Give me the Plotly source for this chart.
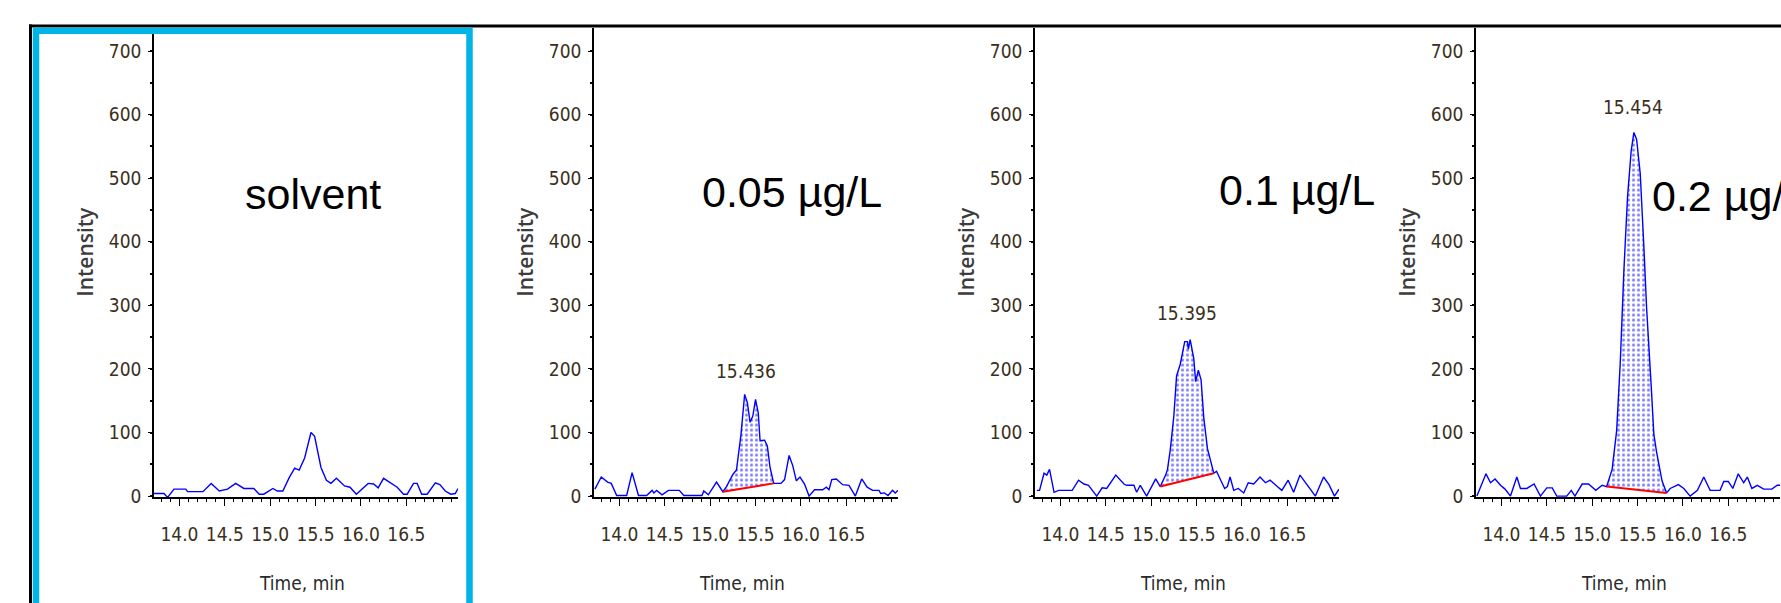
import plotly.graph_objects as go

W, H = 1781, 603

# ---------------- data ----------------
panel_labels = ["solvent", "0.05 µg/L", "0.1 µg/L", "0.2 µg/L"]

t_solvent = [13.72, 13.83, 13.87, 13.94, 14.07, 14.09, 14.26, 14.35, 14.44, 14.53, 14.62, 14.71,
             14.82, 14.88, 14.93, 15.03, 15.08, 15.14, 15.21, 15.27, 15.32, 15.38, 15.45, 15.49,
             15.56, 15.62, 15.67, 15.73, 15.82, 15.88, 15.95, 16.03, 16.08, 16.14, 16.19, 16.25,
             16.32, 16.40, 16.47, 16.51, 16.58, 16.62, 16.67, 16.73, 16.82, 16.87, 16.93, 16.99,
             17.04, 17.07]
i_solvent = [4, 4, -2, 11, 11, 7, 7, 20, 8, 11, 20, 12,
             12, 3, 3, 12, 8, 8, 29, 44, 41, 60, 100, 94,
             45, 25, 20, 28, 16, 14, 3, 13, 20, 19, 13, 28,
             21, 14, 3, 3, 20, 20, 3, 3, 21, 18, 8, 3,
             4, 12]

t_005 = [13.73, 13.80, 13.87, 13.91, 13.97, 14.08, 14.14, 14.21, 14.30, 14.36, 14.38, 14.41,
         14.47, 14.54, 14.66, 14.71, 14.91, 14.93, 14.98, 15.07, 15.14, 15.18, 15.25, 15.29,
         15.34, 15.38, 15.41, 15.44, 15.47, 15.50, 15.53, 15.55, 15.60, 15.63, 15.66, 15.70,
         15.78, 15.82, 15.87, 15.91, 15.95, 15.99, 16.04, 16.09, 16.15, 16.24, 16.28, 16.31,
         16.34, 16.39, 16.46, 16.53, 16.60, 16.67, 16.73, 16.79, 16.86, 16.88, 16.92, 16.96,
         17.01, 17.04, 17.07]
i_005 = [11, 30, 22, 20, 1, 1, 37, 1, 1, 9, 5, 9,
         2, 9, 9, 1, 1, 8, 2, 22, 7, 15, 34, 41,
         97, 160, 147, 116, 126, 152, 131, 87, 88, 79, 45, 20,
         20, 26, 64, 48, 24, 30, 19, 0, 10, 10, 14, 10,
         26, 27, 18, 17, 0, 27, 14, 9, 9, 4, 5, 1,
         9, 5, 9]

t_01 = [13.74, 13.77, 13.82, 13.85, 13.88, 13.93, 13.98, 14.13, 14.20, 14.26, 14.31, 14.40,
        14.46, 14.51, 14.61, 14.70, 14.73, 14.81, 14.84, 14.88, 14.95, 15.05, 15.10, 15.16,
        15.18, 15.21, 15.25, 15.28, 15.32, 15.37, 15.40, 15.41, 15.43, 15.47, 15.49, 15.52,
        15.55, 15.58, 15.62, 15.66, 15.69, 15.72, 15.76, 15.81, 15.84, 15.87, 15.91, 15.96,
        16.02, 16.07, 16.13, 16.20, 16.26, 16.31, 16.39, 16.44, 16.51, 16.57, 16.64, 16.72,
        16.81, 16.90, 16.96, 17.02, 17.07]
i_01 = [9, 9, 36, 33, 42, 6, 9, 9, 25, 19, 17, 0,
        13, 12, 33, 19, 17, 17, 6, 17, 0, 27, 15, 33,
        42, 72, 126, 189, 207, 243, 243, 231, 246, 216, 180, 198,
        183, 123, 75, 50, 36, 39, 27, 12, 15, 30, 9, 12,
        5, 21, 19, 30, 21, 25, 15, 9, 25, 6, 33, 18,
        0, 30, 18, 0, 11]

t_02 = [13.73, 13.77, 13.83, 13.88, 13.93, 13.99, 14.04, 14.10, 14.17, 14.21, 14.28, 14.36,
        14.43, 14.50, 14.56, 14.61, 14.72, 14.77, 14.81, 14.89, 14.96, 15.04, 15.11, 15.16,
        15.22, 15.27, 15.31, 15.35, 15.39, 15.43, 15.46, 15.49, 15.53, 15.57, 15.60, 15.65,
        15.68, 15.71, 15.77, 15.82, 15.86, 15.95, 16.01, 16.08, 16.16, 16.23, 16.30, 16.41,
        16.45, 16.50, 16.55, 16.61, 16.67, 16.71, 16.76, 16.82, 16.89, 16.98, 17.04, 17.07]
i_02 = [0, 13, 35, 21, 27, 17, 11, 0, 30, 12, 12, 19,
        0, 13, 13, 0, 0, 9, 0, 19, 19, 9, 17, 15,
        42, 103, 211, 356, 471, 543, 572, 561, 507, 392, 296, 175,
        97, 69, 24, 5, 12, 18, 12, 0, 9, 30, 9, 9,
        23, 23, 12, 35, 21, 30, 12, 17, 11, 11, 17, 17]

times = [t_solvent, t_005, t_01, t_02]
intens = [i_solvent, i_005, i_01, i_02]

# integration baselines (start time, start value, end time, end value); None for solvent
baselines = [None, (15.14, 7, 15.70, 20), (15.10, 15, 15.69, 36), (15.16, 15, 15.82, 5)]
peak_rt = [None, "15.436", "15.395", "15.454"]
peak_lbl_x = [None, 15.39, 15.40, 15.45]
peak_lbl_y = [None, 197, 288, 612]

x_ticks = [14.0, 14.5, 15.0, 15.5, 16.0, 16.5]
y_ticks = [0, 100, 200, 300, 400, 500, 600, 700]

# ---------------- layout helpers ----------------
def fx(p):
    return p / W

def fy(p):
    return 1 - p / H

x_dom_px = [(154, 458), (594, 898), (1035, 1339), (1476, 1780)]
y_dom = [fy(505.5), fy(28)]
x_range = [13.72, 17.07]
y_range = [-1.6, 737]

tick_font = dict(family="DejaVu Sans Condensed, Liberation Sans Narrow, Arial Narrow, sans-serif",
                 size=19, color="#3a3020")

fig = go.Figure()
layout = dict(width=W, height=H, margin=dict(l=0, r=0, t=0, b=0),
              paper_bgcolor="white", plot_bgcolor="white", showlegend=False)

annotations = []
for k in range(4):
    sx = "" if k == 0 else str(k + 1)
    xa, ya = "x" + sx, "y" + sx
    t, v = times[k], intens[k]
    bl = baselines[k]
    if bl is not None:
        t0, v0, t1, v1 = bl
        # invisible baseline used as the lower edge of the fill
        fig.add_trace(go.Scatter(x=[t0, t1], y=[v0, v1], mode="lines",
                                 line=dict(width=0, color="rgba(0,0,0,0)"),
                                 xaxis=xa, yaxis=ya, hoverinfo="skip"))
        seg_t = [tt for tt in t if t0 <= tt <= t1]
        seg_v = [vv for tt, vv in zip(t, v) if t0 <= tt <= t1]
        fig.add_trace(go.Scatter(x=seg_t, y=seg_v, mode="lines", fill="tonexty",
                                 fillcolor="white",
                                 fillpattern=dict(shape=".", fgcolor="#0000ff", bgcolor="white",
                                                  size=5, solidity=0.3),
                                 line=dict(width=0, color="rgba(0,0,0,0)"),
                                 xaxis=xa, yaxis=ya, hoverinfo="skip"))
    fig.add_trace(go.Scatter(x=t, y=v, mode="lines", line=dict(color="#0000ff", width=1.4),
                             xaxis=xa, yaxis=ya))
    if bl is not None:
        t0, v0, t1, v1 = bl
        fig.add_trace(go.Scatter(x=[t0, t1], y=[v0, v1], mode="lines",
                                 line=dict(color="#ff0000", width=2),
                                 xaxis=xa, yaxis=ya))
        annotations.append(dict(xref=xa, yref=ya, x=peak_lbl_x[k], y=peak_lbl_y[k],
                                text=peak_rt[k], showarrow=False, font=tick_font,
                                xanchor="center", yanchor="middle"))

    d0, d1 = x_dom_px[k]
    layout["xaxis" + sx] = dict(domain=[fx(d0), fx(d1)], range=x_range, anchor=ya,
                                showline=True, linecolor="black", linewidth=1.5,
                                showgrid=False, zeroline=False,
                                tickmode="array", tickvals=x_ticks,
                                ticktext=[f"{x:.1f}" for x in x_ticks],
                                ticks="outside", ticklen=7, tickwidth=1.3, tickcolor="black",
                                minor=dict(dtick=0.1, tick0=14.0, ticks="outside", ticklen=3,
                                           tickwidth=1, tickcolor="black"),
                                tickfont=tick_font, ticklabelstandoff=12)
    layout["yaxis" + sx] = dict(domain=y_dom, range=y_range, anchor=xa,
                                showline=True, linecolor="black", linewidth=1.5,
                                showgrid=False, zeroline=False,
                                tickmode="array", tickvals=y_ticks,
                                ticks="outside", ticklen=4, tickwidth=1.3, tickcolor="black",
                                minor=dict(dtick=50, tick0=0, ticks="outside", ticklen=2,
                                           tickwidth=1.5, tickcolor="black"),
                                tickfont=tick_font, ticklabelstandoff=3)

    # axis titles
    annotations.append(dict(xref="paper", yref="paper", x=fx(d0 - 69), y=fy(256),
                            text="Intensity", textangle=-90, showarrow=False,
                            font=dict(family="Open Sans, Liberation Sans, sans-serif", size=21,
                                      color="#3c3c3c", weight=600),
                            xanchor="center", yanchor="middle"))
    annotations.append(dict(xref="paper", yref="paper", x=fx(d0 + 148), y=fy(593),
                            text="Time, min", showarrow=False,
                            font=dict(family=tick_font["family"], size=19, color="#2a2a2a"),
                            xanchor="center", yanchor="middle"))

# big concentration labels
big_font = dict(family="Liberation Sans, Arial, sans-serif", size=43, color="black")
label_pos = [(313, 197, "center"), (792, 195, "center"), (1297, 193, "center"), (1650, 199, "left")]
for lbl, (px, py, anc) in zip(panel_labels, label_pos):
    annotations.append(dict(xref="paper", yref="paper", x=fx(px), y=fy(py), text=lbl,
                            showarrow=False, font=big_font, xanchor=anc, yanchor="middle"))

shapes = [
    # black frame (top and left)
    dict(type="line", xref="paper", yref="paper", x0=fx(29), x1=1.01, y0=fy(26.5), y1=fy(26.5),
         line=dict(color="black", width=3), layer="above"),
    dict(type="line", xref="paper", yref="paper", x0=fx(30.5), x1=fx(30.5), y0=fy(25), y1=-0.05,
         line=dict(color="black", width=3), layer="above"),
    # cyan highlight box around the solvent panel
    dict(type="rect", xref="paper", yref="paper", x0=fx(36), x1=fx(469.5), y0=-0.05, y1=fy(31.3),
         line=dict(color="#00b4e6", width=6.5), layer="above"),
]

layout["annotations"] = annotations
layout["shapes"] = shapes
fig.update_layout(**layout)
fig.write_html("out.html", config={"displayModeBar": False},
               post_script="document.body.style.margin='0px';document.body.style.overflow='hidden';")
